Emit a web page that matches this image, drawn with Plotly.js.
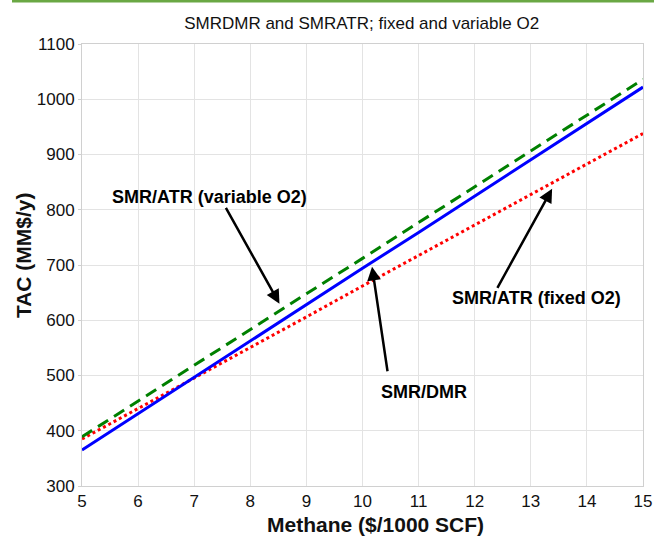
<!DOCTYPE html>
<html>
<head>
<meta charset="utf-8">
<script src="https://cdn.plot.ly/plotly-3.0.1.min.js"></script>
<style>html,body{margin:0;padding:0;background:#fff;}#chart{width:654px;height:538px;}</style>
</head>
<body>
<div id="chart"></div>
<script>
// Methane price ($/1000 SCF)
const methane = [5, 6, 7, 8, 9, 10, 11, 12, 13, 14, 15];
// TAC (MM$/y)
const smrDmr      = [365, 431, 496, 562, 628, 694, 759, 825, 891, 956, 1022];
const smrAtrVarO2 = [389, 454, 518, 583, 648, 712, 777, 842, 906, 971, 1036];
const smrAtrFixO2 = [385, 440, 496, 551, 606, 662, 717, 772, 827, 883, 938];
const xTicks = [5, 6, 7, 8, 9, 10, 11, 12, 13, 14, 15];
const yTicks = [300, 400, 500, 600, 700, 800, 900, 1000, 1100];

// annotations: label, label position, arrow tip, arrow tail
const labels = ['SMR/ATR (variable O2)', 'SMR/DMR', 'SMR/ATR (fixed O2)'];
const labelX = [7.27, 11.1, 13.1];
const labelY = [823, 471, 641];
const tipX = [8.52, 10.17, 13.38];
const tipY = [630, 697, 838];
const tailX = [7.55, 10.45, 12.39];
const tailY = [806, 505, 656];

const FONT = 'Liberation Sans, Arial, sans-serif';

const traces = [
  {x: methane, y: smrAtrFixO2, mode: 'lines', name: 'SMR/ATR (fixed O2)',
   line: {color: '#ff0000', width: 3, dash: '3px,3px'}},
  {x: methane, y: smrDmr, mode: 'lines', name: 'SMR/DMR',
   line: {color: '#0000ff', width: 3}},
  {x: methane, y: smrAtrVarO2, mode: 'lines', name: 'SMR/ATR (variable O2)',
   line: {color: '#008000', width: 3, dash: '12px,7px'}}
];

const annotations = [];
for (let i = 0; i < labels.length; i++) {
  annotations.push({x: tipX[i], y: tipY[i], xref: 'x', yref: 'y',
    ax: tailX[i], ay: tailY[i], axref: 'x', ayref: 'y',
    text: '', showarrow: true, arrowhead: 2, arrowsize: 1.1, arrowwidth: 2.5,
    arrowcolor: '#000'});
  annotations.push({x: labelX[i], y: labelY[i], xref: 'x', yref: 'y',
    text: '<b>' + labels[i] + '</b>', showarrow: false,
    font: {family: FONT, size: 18, color: '#000'}});
}
// axis titles
annotations.push({x: 0.524, y: -0.088, xref: 'paper', yref: 'paper',
  text: '<b>Methane ($/1000 SCF)</b>', showarrow: false,
  xanchor: 'center', yanchor: 'middle',
  font: {family: FONT, size: 21, color: '#111'}});
annotations.push({x: -0.105, y: 0.5226, xref: 'paper', yref: 'paper',
  text: '<b>TAC (MM$/y)</b>', showarrow: false, textangle: -90,
  xanchor: 'center', yanchor: 'middle',
  font: {family: FONT, size: 21, color: '#111'}});

const layout = {
  width: 654, height: 538,
  margin: {l: 82, r: 11, t: 44, b: 52},
  paper_bgcolor: '#fff', plot_bgcolor: '#fff',
  showlegend: false,
  title: {text: 'SMRDMR and SMRATR; fixed and variable O2',
    font: {family: FONT, size: 17, color: '#111'},
    x: 0.553, xanchor: 'center', y: 0.957, yanchor: 'middle'},
  font: {family: FONT, color: '#111'},
  xaxis: {range: [5, 15], tickvals: xTicks, showgrid: true, gridcolor: '#e3e3e3',
    showline: true, linecolor: '#d0d0d0', linewidth: 1, mirror: true,
    ticks: '', zeroline: false, tickfont: {size: 17, color: '#111'}},
  yaxis: {range: [300, 1100], tickvals: yTicks, showgrid: true, gridcolor: '#e3e3e3',
    showline: true, linecolor: '#d0d0d0', linewidth: 1, mirror: true,
    ticks: 'outside', ticklen: 3, tickcolor: '#d0d0d0',
    zeroline: false, tickfont: {size: 17, color: '#111'}},
  annotations: annotations,
  shapes: [{type: 'rect', xref: 'paper', yref: 'paper',
    x0: (12 - 82) / 561, x1: (654 - 82) / 561,
    y0: (486 - 2.5) / 442, y1: (486 + 1) / 442,
    fillcolor: '#6aa844', line: {width: 0}}]
};

Plotly.newPlot('chart', traces, layout, {displayModeBar: false, staticPlot: true});
</script>
</body>
</html>
